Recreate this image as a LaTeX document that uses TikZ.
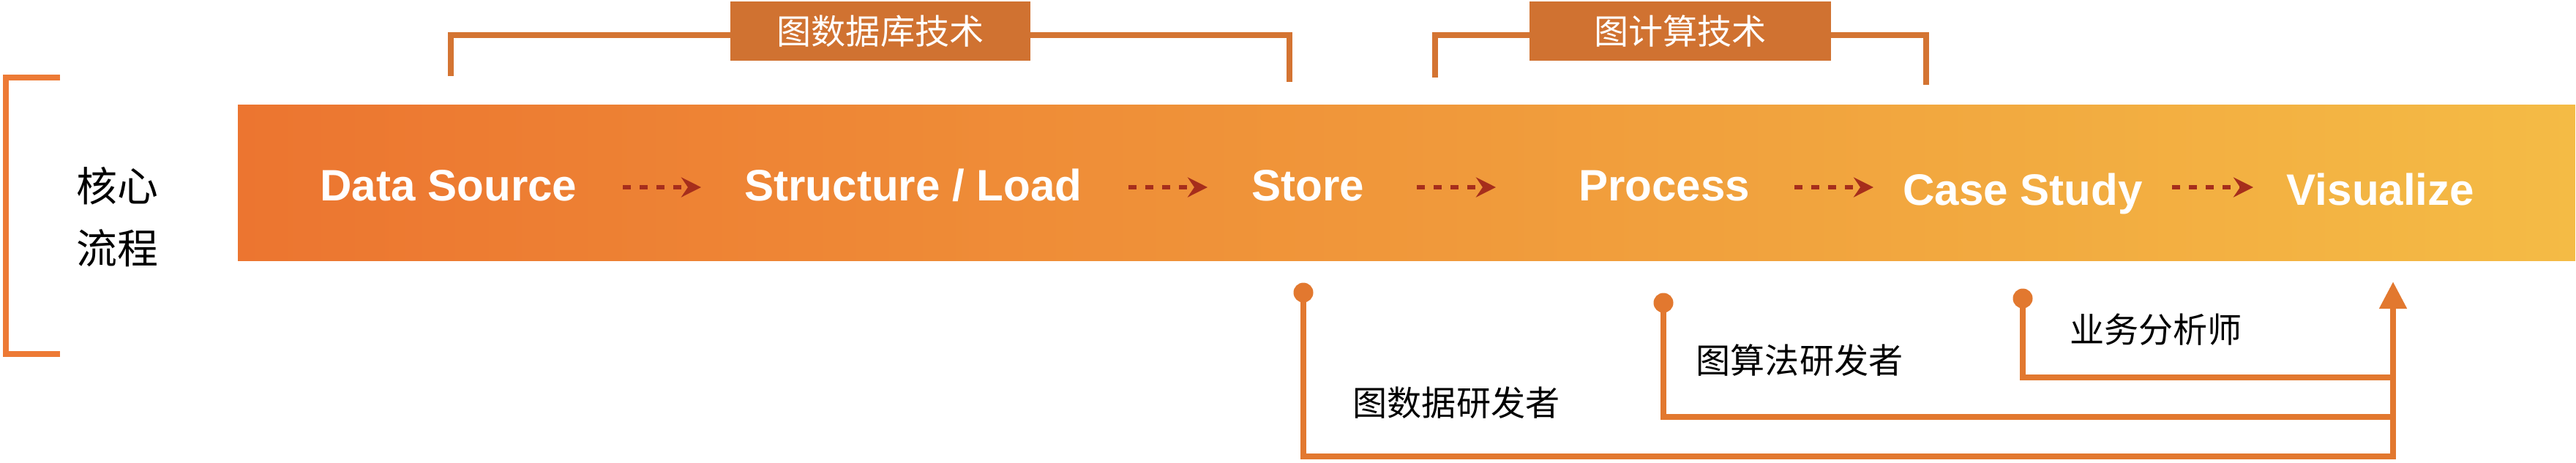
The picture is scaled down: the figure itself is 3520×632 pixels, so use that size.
\documentclass[tikz,border=0pt]{standalone}
\usepackage{fontspec}
\setmainfont{Liberation Sans}
\newfontfamily\cjk{Noto Sans CJK SC}
\usetikzlibrary{arrows.meta}
\definecolor{barL}{RGB}{236,117,48}
\definecolor{barR}{RGB}{244,187,69}
\definecolor{tagor}{RGB}{208,114,49}
\definecolor{brkor}{RGB}{212,116,50}
\definecolor{connor}{RGB}{226,120,47}
\definecolor{lbrkor}{RGB}{237,122,53}
\definecolor{arrowred}{RGB}{166,46,28}
\tikzset{
  stepname/.style={text=white, inner sep=0pt, anchor=base, font=\fontsize{17.1pt}{20pt}\selectfont\bfseries},
  flow/.style={draw=arrowred, line width=0.06cm, dash pattern=on 0.11cm off 0.12cm, -{Stealth[length=0.27cm,width=0.27cm,inset=0.09cm]}},
  conn/.style={draw=connor, line width=0.08cm},
  dotnode/.style={circle, fill=connor, minimum size=0.27cm, inner sep=0pt},
  brk/.style={draw=brkor, line width=0.08cm},
  tagbox/.style={fill=tagor, text=white, inner sep=0pt, minimum width=4.1cm, minimum height=0.81cm, font=\cjk\fontsize{13.4pt}{16pt}\selectfont},
  role/.style={text=black, inner sep=0pt, font=\cjk\fontsize{13.4pt}{16pt}\selectfont}
}
\begin{document}
\begin{tikzpicture}[x=0.01cm,y=-0.01cm]
\useasboundingbox (0,0) rectangle (3520,632);
% left bracket and title
\draw[draw=lbrkor, line width=0.075cm] (82,106) -- (8,106) -- (8,484) -- (82,484);
\node[text=black, inner sep=0pt, align=center, font=\cjk\fontsize{15.9pt}{24.2pt}\selectfont] (core) at (160,297) {核心\\流程};
% main bar
\node[inner sep=0pt, minimum width=31.92cm, minimum height=2.12cm, left color=barL, right color=barR, draw=none] (bar) at (1922,250) {};
% steps
\node[stepname] (ds) at (613,274) {Data Source};
\node[stepname] (sl) at (1248,274) {Structure / Load};
\node[stepname] (st) at (1787,274) {Store};
\node[stepname] (pr) at (2274,274) {Process};
\node[stepname] (cs) at (2764,280) {Case Study};
\node[stepname] (vi) at (3253,280) {Visualize};
% dotted arrows
\coordinate (a1s) at (851,256); \coordinate (a1e) at (958,256);
\coordinate (a2s) at (1542,256); \coordinate (a2e) at (1650,256);
\coordinate (a3s) at (1936,256); \coordinate (a3e) at (2044,256);
\coordinate (a4s) at (2452,256); \coordinate (a4e) at (2560,256);
\coordinate (a5s) at (2968,256); \coordinate (a5e) at (3079,256);
\draw[flow] (a1s) -- (a1e);
\draw[flow] (a2s) -- (a2e);
\draw[flow] (a3s) -- (a3e);
\draw[flow] (a4s) -- (a4e);
\draw[flow] (a5s) -- (a5e);
% top brackets
\coordinate (b1l) at (616,104); \coordinate (b1m) at (1203,48); \coordinate (b1r) at (1762,112);
\draw[brk] (b1l) |- (b1m) -| (b1r);
\node[tagbox] (t1) at (1203,42.5) {图数据库技术};
\coordinate (b2l) at (1961,106); \coordinate (b2m) at (2296,48); \coordinate (b2r) at (2632,116);
\draw[brk] (b2l) |- (b2m) -| (b2r);
\node[tagbox, minimum width=4.12cm] (t2) at (2296,42.5) {图计算技术};
% bottom connectors
\coordinate (j1) at (3270,624);
\coordinate (j2) at (3270,570);
\coordinate (j3) at (3270,516);
\coordinate (vtip) at (3270,385);
\node[dotnode] (d1) at (1781,400) {};
\node[dotnode] (d2) at (2273,414) {};
\node[dotnode] (d3) at (2764,408) {};
\draw[conn, -{Triangle[length=0.37cm,width=0.36cm]}] (d1.center) |- (j1) -- (vtip);
\draw[conn] (d2.center) |- (j2);
\draw[conn] (d3.center) |- (j3);
% role labels
\node[role] (r1) at (1990,551) {图数据研发者};
\node[role] (r2) at (2459,493) {图算法研发者};
\node[role] (r3) at (2946,451) {业务分析师};
\end{tikzpicture}
\end{document}
